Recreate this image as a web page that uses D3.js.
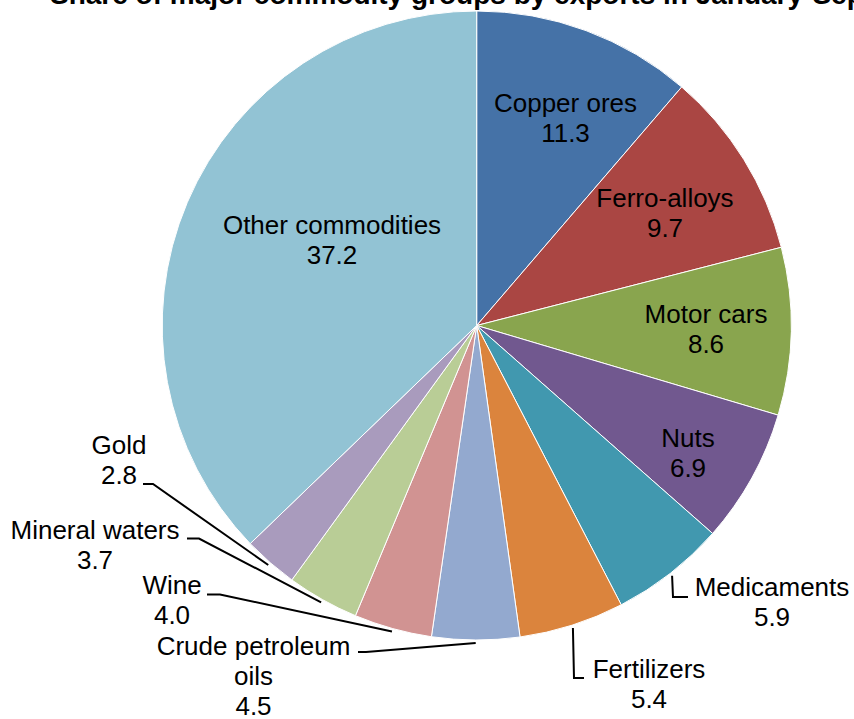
<!DOCTYPE html>
<html>
<head>
<meta charset="utf-8">
<script src="https://cdn.jsdelivr.net/npm/d3@7/dist/d3.min.js"></script>
<style>
  html, body { margin: 0; padding: 0; background: #ffffff; }
  svg { display: block; font-family: "Liberation Sans", Arial, sans-serif; }
</style>
</head>
<body>
<svg id="chart" width="854" height="719"></svg>
<script>
// ---- data ----
const categories = ["Copper ores", "Ferro-alloys", "Motor cars", "Nuts", "Medicaments",
  "Fertilizers", "Crude petroleum oils", "Wine", "Mineral waters", "Gold", "Other commodities"];
const shares = [11.3, 9.7, 8.6, 6.9, 5.9, 5.4, 4.5, 4.0, 3.7, 2.8, 37.2];
const labelLines = [["Copper ores"], ["Ferro-alloys"], ["Motor cars"], ["Nuts"], ["Medicaments"],
  ["Fertilizers"], ["Crude petroleum", "oils"], ["Wine"], ["Mineral waters"], ["Gold"], ["Other commodities"]];
const colors = ["#4572A7", "#AA4643", "#89A54E", "#71588F", "#4198AF", "#DB843D",
  "#93A9CF", "#D19392", "#B9CD96", "#A99BBD", "#92C3D4"];
const title = "Share of major commodity groups by exports in January-September, %";

// ---- layout (label placement relative to pie centre) ----
// [dx, dy] of first text baseline (text centred), optional leader knee & end
const labelLayout = [
  { pos: [88.8, -213.8] },
  { pos: [188.3, -118.2] },
  { pos: [229.3, -2.8] },
  { pos: [211.3, 121.8] },
  { pos: [295.3, 270.5], knee: [196.3, 271.5], end: [211.3, 271.5] },
  { pos: [172.3, 352.5], knee: [97.3, 352.5], end: [107.3, 352.5] },
  { pos: [-223.2, 329.5], knee: [-110.7, 326.5], end: [-118.7, 326.5] },
  { pos: [-304.7, 268.5], knee: [-256.7, 269], end: [-269.7, 269] },
  { pos: [-381.7, 213.5], knee: [-277.7, 213], end: [-289.7, 213] },
  { pos: [-357.7, 128.5], knee: [-323.7, 158.5], end: [-333.7, 158.5] },
  { pos: [-144.7, -91.2] }
];

const cx = 476.7, cy = 325.5, R = 314.5;
const fontSize = 26, lineH = 30;

const svg = d3.select("#chart");

svg.append("text")
  .attr("x", 50).attr("y", 4)
  .attr("font-size", 28).attr("font-weight", "bold")
  .attr("fill", "#000")
  .text(title);

const data = categories.map((c, i) => ({ name: c, value: shares[i], i }));
const pie = d3.pie().value(d => d.value).sort(null);
const arcs = pie(data);
const arc = d3.arc().innerRadius(0).outerRadius(R);

const g = svg.append("g").attr("transform", `translate(${cx},${cy})`);

g.selectAll("path.slice").data(arcs).enter().append("path")
  .attr("class", "slice")
  .attr("d", arc)
  .attr("fill", d => colors[d.data.i])
  .attr("stroke", "#ffffff")
  .attr("stroke-width", 1);

// leader lines
arcs.forEach(a => {
  const L = labelLayout[a.data.i];
  if (!L.knee) return;
  const mid = (a.startAngle + a.endAngle) / 2;
  const rr = R + 3;
  const p0 = [rr * Math.sin(mid), -rr * Math.cos(mid)];
  g.append("path")
    .attr("d", d3.line()([p0, L.knee, L.end]))
    .attr("fill", "none")
    .attr("stroke", "#000")
    .attr("stroke-width", 2);
});

// labels
arcs.forEach(a => {
  const i = a.data.i;
  const L = labelLayout[i];
  const lines = labelLines[i].concat([shares[i].toFixed(1)]);
  const t = g.append("text")
    .attr("text-anchor", "middle")
    .attr("font-size", fontSize)
    .attr("fill", "#000");
  lines.forEach((ln, k) => {
    t.append("tspan")
      .attr("x", L.pos[0])
      .attr("y", L.pos[1] + k * lineH)
      .text(ln);
  });
});
</script>
</body>
</html>
